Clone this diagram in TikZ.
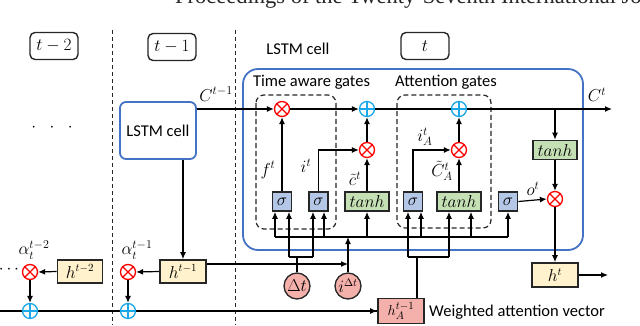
\documentclass[tikz,border=0pt]{standalone}
\usepackage{fontspec}
\setmainfont{Carlito}
\newfontfamily\hdrfont{Liberation Serif}
\usetikzlibrary{arrows.meta,calc}
\definecolor{cellblue}{HTML}{4472C4}
\definecolor{sigfill}{HTML}{B4C7E7}
\definecolor{tanhfill}{HTML}{C5E0B4}
\definecolor{hfill}{HTML}{FFF2CC}
\definecolor{pinkfill}{HTML}{F4B0AA}
\definecolor{addcol}{HTML}{1CA8E8}
\definecolor{boxedge}{HTML}{262626}
\begin{document}
\begin{tikzpicture}[x=1pt,y=-1pt,
  every node/.style={font=\fontsize{16.5}{19}\selectfont, inner sep=0pt},
  mlabel/.style={font=\fontsize{17}{19}\selectfont},
  wire/.style={line width=1.2pt, draw=black},
  arr/.style={wire, -{Latex[length=7pt,width=6pt]}},
  mul/.style={circle, draw=red, line width=1.3pt, fill=white, minimum size=15pt,
    path picture={\draw[red,line width=1.3pt] (path picture bounding box.north west)--(path picture bounding box.south east) (path picture bounding box.north east)--(path picture bounding box.south west);}},
  addn/.style={circle, draw=addcol, line width=1.3pt, fill=white, minimum size=15pt,
    path picture={\draw[addcol,line width=1.3pt] (path picture bounding box.north)--(path picture bounding box.south) (path picture bounding box.east)--(path picture bounding box.west);}},
  sigbox/.style={draw=boxedge, line width=1.6pt, fill=sigfill, minimum width=19pt, minimum height=19pt, font=\fontsize{16}{18}\selectfont},
  tanhbox/.style={draw=boxedge, line width=1.6pt, fill=tanhfill, minimum width=44pt, minimum height=19pt, font=\fontsize{17}{18}\selectfont},
  hbox/.style={draw=boxedge, line width=1.6pt, fill=hfill, minimum width=45pt, minimum height=23pt, font=\fontsize{16}{18}\selectfont},
  pinkcirc/.style={circle, draw=boxedge, line width=1.3pt, fill=pinkfill, minimum size=26pt, font=\fontsize{16}{18}\selectfont},
  tbox/.style={draw=boxedge, rounded corners=5pt, line width=1.4pt, minimum width=48pt, minimum height=27pt, font=\fontsize{17}{19}\selectfont},
  cellbox/.style={draw=cellblue, rounded corners=6pt, line width=1.8pt, fill=white},
  gatebox/.style={draw=boxedge, dash pattern=on 5pt off 3pt, line width=1.2pt, rounded corners=8pt},
  divider/.style={draw=boxedge, dash pattern=on 4pt off 3pt, line width=0.8pt}
]
\useasboundingbox (0,0) rectangle (640,325);
% header
\begin{scope}
\clip (0,0) rectangle (640,325);
\node[anchor=base west, font=\hdrfont\fontsize{22.5}{26}\selectfont, text=boxedge] (hdr) at (175,3.5) {Proceedings of the Twenty-Seventh International Joint};
\end{scope}
% dividers
\draw[divider] (112,30) -- (112,325);
\draw[divider] (235,30) -- (235,325);
% time boxes
\node[tbox] (tm2) at (54,46) {$t-2$};
\node[tbox] (tm1) at (172,47) {$t-1$};
\node[tbox] (tt) at (425,46) {$t$};
\node (dots) at (52,128) {$\cdot\;\;\cdot\;\;\cdot$};
\node (lstmlbl) at (298,49) {LSTM cell};
% big cell
\draw[cellbox, rounded corners=15pt] (243,69) rectangle (583,250);
\node (tag) at (311.5,82) {Time aware gates};
\node (atg) at (446,82) {Attention gates};
\draw[gatebox] (256,95) rectangle (336,229);
\draw[gatebox] (397,95) rectangle (491,228);
% left lstm cell
\node[cellbox, minimum width=76pt, minimum height=57pt] (lstm) at (158,130.5) {LSTM cell};
% operators
\node[mul] (mf) at (282,109) {};
\node[addn] (addc) at (367,109) {};
\node[mul] (mi) at (367,150) {};
\node[addn] (adda) at (459,109) {};
\node[mul] (ma) at (459,150) {};
\node[mul] (mo) at (555,199) {};
% gates
\node[sigbox] (sig1) at (282,201.5) {$\sigma$};
\node[sigbox] (sig2) at (318.5,201.5) {$\sigma$};
\node[tanhbox] (tanh1) at (367,201.5) {$tanh$};
\node[sigbox] (sig3) at (413,201.5) {$\sigma$};
\node[tanhbox] (tanh2) at (459,201.5) {$tanh$};
\node[sigbox] (sig4) at (508,201.5) {$\sigma$};
\node[tanhbox] (tanh3) at (555,150) {$tanh$};
\node[hbox, minimum width=46pt, minimum height=24pt] (ht) at (555,275) {$h^{t}$};
% labels
\node[mlabel] (lf) at (268,170) {$f^t$};
\node[mlabel] (li) at (306,166) {$i^t$};
\node[mlabel] (lc) at (355,179) {$\tilde{c}^t$};
\node[mlabel] (liA) at (425,137) {$i_A^t$};
\node[mlabel] (lcA) at (442,171) {$\tilde{C}_A^t$};
\node[mlabel] (lo) at (533,189) {$o^t$};
\node[mlabel] (lC1) at (216,94) {$C^{t-1}$};
\node[mlabel] (lC) at (597,95) {$C^t$};
% inputs
\node[pinkcirc] (dt) at (297,286) {$\Delta t$};
\node[pinkcirc] (idt) at (348,286) {$i^{\Delta t}$};
\node[hbox, fill=pinkfill, minimum width=46pt, minimum height=25pt, font=\fontsize{15}{17}\selectfont] (hA) at (401,311) {$h_A^{t-1}$};
\node[anchor=west] (wav) at (429,312) {Weighted attention vector};
% left chain
\node[hbox] (h2) at (80,271.5) {$h^{t-2}$};
\node[hbox, minimum width=46pt] (h1) at (183,271.5) {$h^{t-1}$};
\coordinate (botL) at (0,311);
\draw[wire] (botL) -- (hA.west);
\draw[arr] (botL -| hA.west) ++(-1,0) -- (hA.west);
\node[mul] (a2) at (30,272) {};
\node[mul] (a1) at (128,272) {};
\node[addn] (s2) at (30,311) {};
\node[addn] (s1) at (128,311) {};
\node (ldots) at (9,270) {$\cdots$};
\node[mlabel] (al2) at (34,250) {$\alpha_t^{t-2}$};
\node[mlabel] (al1) at (137,250) {$\alpha_t^{t-1}$};
\draw[arr] (h2.west) -- (a2.east);
\draw[arr] (h1.west) -- (a1.east);
\draw[arr] (a2.south) -- (s2.north);
\draw[arr] (a1.south) -- (s1.north);
\draw[arr] (lstm.south -| h1) -- (h1.north);
% C line
\coordinate (cout) at (612,109);
\draw[arr] (lstm.east |- mf) -- (mf.west);
\draw[arr] (mf.east) -- (addc.west);
\draw[wire] (addc.east) -- (adda.west);
\draw[arr] (adda.east) -- (cout);
\draw[arr] (tanh3.north |- mf) -- (tanh3.north);
\draw[arr] (tanh3.south) -- (mo.north);
\draw[arr] (mo.south) -- (ht.north);
\coordinate (hout) at (608,275);
\draw[arr] (ht.east) -- (hout);
% gate outputs
\draw[arr] (sig1.north) -- (mf.south);
\draw[arr] (sig2.north) |- (mi.west);
\draw[arr] (tanh1.north) -- (mi.south);
\draw[arr] (mi.north) -- (addc.south);
\draw[arr] (sig3.north) |- (ma.west);
\draw[arr] (tanh2.north) -- (ma.south);
\draw[arr] (ma.north) -- (adda.south);
\draw[arr] (sig4.east) -- (mo.west);
% bus
\coordinate (b1) at (275,237);
\coordinate (b2) at (324,237);
\coordinate (b3) at (367,237);
\coordinate (b4) at (421,237);
\coordinate (b5) at (471,237);
\coordinate (b6) at (508,237);
\draw[wire] (b1) -- (b6);
\draw[arr] (b1) -- (b1 |- sig1.south);
\draw[arr] (b2) -- (b2 |- sig2.south);
\draw[arr] (b3) -- (b3 |- tanh1.south);
\draw[arr] (b4) -- (b4 |- sig3.south);
\draw[arr] (b5) -- (b5 |- tanh2.south);
\draw[arr] (b6) -- (b6 |- sig4.south);
% delta t
\coordinate (dj) at (297,257);
\coordinate (d1) at (289,257);
\coordinate (d2) at (313,257);
\draw[wire] (dt.north) -- (dj);
\draw[wire] (d1) -- (d2);
\draw[arr] (d1) -- (d1 |- sig1.south);
\draw[arr] (d2) -- (d2 |- sig2.south);
% i delta t
\coordinate (ij) at (348,237);
\draw[arr] (idt.north) -- (ij);
\coordinate (hj) at (348,264);
\draw[arr] (h1.east |- hj) -- (hj);
% hA
\coordinate (aj) at (417,257);
\coordinate (aa1) at (408,257);
\coordinate (aa2) at (449,257);
\draw[wire] (hA.north -| aj) -- (aj);
\draw[wire] (aa1) -- (aa2);
\draw[arr] (aa1) -- (aa1 |- sig3.south);
\draw[arr] (aa2) -- (aa2 |- tanh2.south);
\end{tikzpicture}
\end{document}
